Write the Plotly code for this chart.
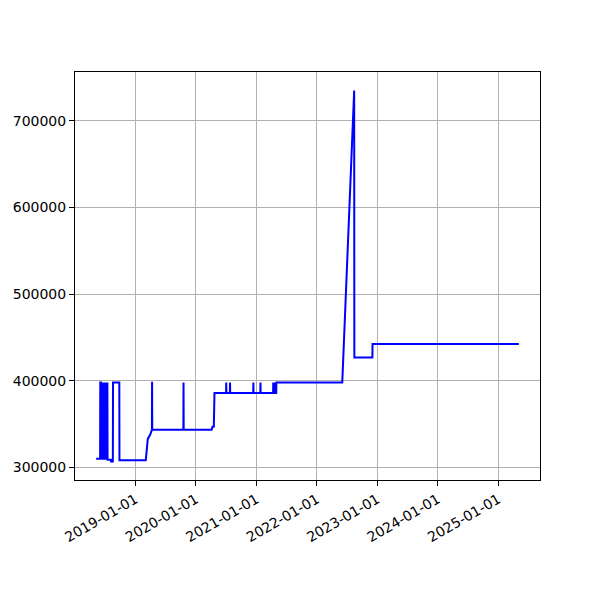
import plotly.graph_objects as go
import pandas as pd

dates = [
    "2018-05-08", "2018-06-01", "2018-06-02", "2018-06-06", "2018-06-07", "2018-06-10",
    "2018-06-14", "2018-06-17", "2018-06-21", "2018-06-24", "2018-06-28", "2018-07-01",
    "2018-07-05", "2018-07-08", "2018-07-12", "2018-07-15", "2018-07-16", "2018-08-05",
    "2018-08-06", "2018-08-17", "2018-08-18", "2018-09-25", "2018-09-26", "2019-03-04",
    "2019-03-16", "2019-03-31", "2019-04-10", "2019-04-11", "2019-04-12", "2019-10-17",
    "2019-10-18", "2019-10-19", "2020-04-05", "2020-04-10", "2020-04-18", "2020-04-22",
    "2020-07-01", "2020-07-02", "2020-07-03", "2020-07-24", "2020-07-25", "2020-07-26",
    "2020-12-12", "2020-12-13", "2020-12-14", "2021-01-24", "2021-01-25", "2021-01-26",
    "2021-04-11", "2021-04-12", "2021-04-13", "2021-04-23", "2021-04-24", "2021-04-25",
    "2021-04-30", "2021-05-01", "2022-06-03", "2022-08-14", "2022-08-15", "2022-12-02",
    "2022-12-03", "2025-05-05",
]
values = [
    310000, 310000, 398000, 398000, 309000, 398000,
    309000, 398000, 309000, 398000, 309000, 398000,
    309000, 398000, 309000, 398000, 309000, 309000,
    307000, 307000, 398000, 398000, 308500, 308500,
    333000, 338000, 343500, 399000, 343500, 343500,
    398000, 343500, 343500, 347000, 347000, 386000,
    386000, 398000, 386000, 386000, 398000, 386000,
    386000, 398000, 386000, 386000, 398000, 386000,
    386000, 398000, 386000, 386000, 398000, 386000,
    386000, 398000, 398000, 735000, 427000, 427000,
    442500, 442500,
]
y_ticks = [300000, 400000, 500000, 600000, 700000]
x_ticks = ["2019-01-01", "2020-01-01", "2021-01-01", "2022-01-01",
           "2023-01-01", "2024-01-01", "2025-01-01"]

dt = pd.to_datetime(dates)
xmin, xmax = dt.min(), dt.max()
xpad = (xmax - xmin) * 0.05
ymin, ymax = min(values), max(values)
ypad = (ymax - ymin) * 0.05

fig = go.Figure(go.Scatter(
    x=dt, y=values, mode="lines",
    line=dict(color="#0000ff", width=2),
))

axis_common = dict(
    showline=True, linecolor="black", linewidth=1, mirror=True,
    ticks="outside", ticklen=5, tickwidth=1, tickcolor="black",
    showgrid=True, gridcolor="#b0b0b0", gridwidth=1,
    zeroline=False, automargin=False,
    tickfont=dict(family="DejaVu Sans", size=14, color="black"),
)

fig.update_layout(
    width=600, height=600,
    margin=dict(l=67, r=68, t=64, b=128),
    paper_bgcolor="white", plot_bgcolor="white",
    showlegend=False,
    xaxis=dict(
        range=[xmin - xpad, xmax + xpad],
        tickmode="array", tickvals=pd.to_datetime(x_ticks), ticktext=x_ticks,
        tickangle=-30,
        **axis_common,
    ),
    yaxis=dict(
        range=[ymin - ypad, ymax + ypad],
        tickmode="array", tickvals=y_ticks, ticktext=[str(v) for v in y_ticks],
        **axis_common,
    ),
)

fig.write_html("out.html")
